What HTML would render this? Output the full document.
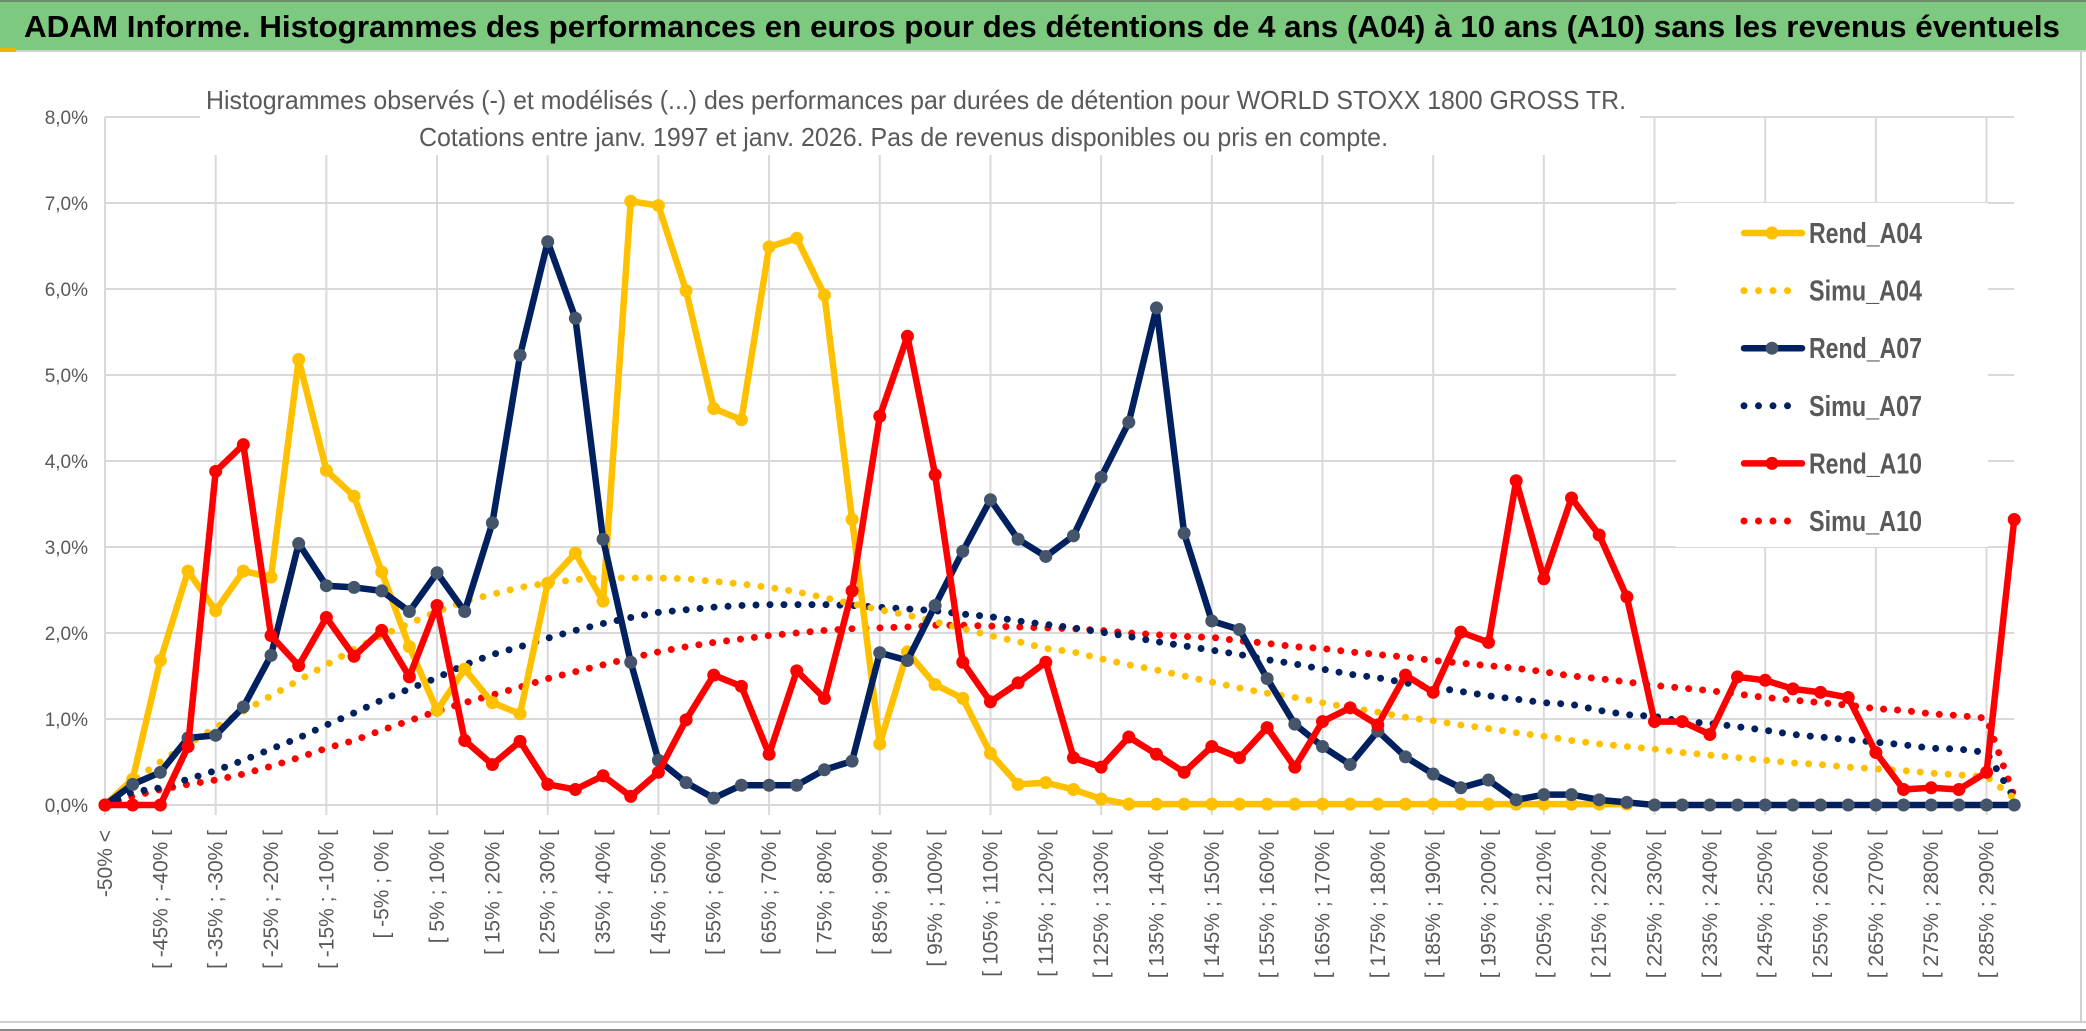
<!DOCTYPE html>
<html><head><meta charset="utf-8">
<style>
html,body{margin:0;padding:0;background:#fff;}
body{width:2086px;height:1031px;overflow:hidden;position:relative;font-family:"Liberation Sans",sans-serif;}
svg{position:absolute;left:0;top:0;}
</style></head>
<body>
<svg id="chart" width="2086" height="1031" viewBox="0 0 2086 1031" xmlns="http://www.w3.org/2000/svg">
  <rect x="0" y="0" width="2086" height="1031" fill="#ffffff"/>
  <rect x="0" y="0" width="2086" height="50" fill="#7dc97f"/>
  <line x1="0" y1="1" x2="2086" y2="1" stroke="#6a8f6a" stroke-width="2"/>
  <line x1="0" y1="51" x2="2086" y2="51" stroke="#d0d0d0" stroke-width="2"/>
  <rect x="0" y="48" width="16" height="4" fill="#f0b400"/>
  <text x="24" y="37" font-family="'Liberation Sans Narrow','Liberation Sans',sans-serif" font-weight="bold" font-size="31" fill="#000" textLength="2036" lengthAdjust="spacingAndGlyphs">ADAM Informe. Histogrammes des performances en euros pour des détentions de 4 ans (A04) à 10 ans (A10) sans les revenus éventuels</text>
  <line x1="2081" y1="52" x2="2081" y2="1022" stroke="#d0d0d0" stroke-width="2"/>
  <line x1="0" y1="1022" x2="2086" y2="1022" stroke="#d0d0d0" stroke-width="2"/>
  <line x1="0" y1="1030" x2="2086" y2="1030" stroke="#888" stroke-width="2"/>
  <g id="grid"></g>
  <rect x="200" y="75" width="1440" height="80" fill="#fff"/>
  <text x="206" y="109" font-size="26" fill="#595959" font-family="'Liberation Sans Narrow','Liberation Sans',sans-serif" textLength="1420" lengthAdjust="spacingAndGlyphs">Histogrammes observés (-) et modélisés (...) des performances par durées de détention pour WORLD STOXX 1800 GROSS TR.</text>
  <text x="419" y="146" font-size="26" fill="#595959" font-family="'Liberation Sans Narrow','Liberation Sans',sans-serif" textLength="969" lengthAdjust="spacingAndGlyphs">Cotations entre janv. 1997 et janv. 2026. Pas de revenus disponibles ou pris en compte.</text>
  <g id="yaxis"></g>
  <g id="xaxis"></g>
  <g id="series"></g>
  <g id="legend"></g>
</svg>
<script>
const categories = ["-50% <"];
for (let k = -50; k < 295; k += 5) categories.push("[ " + k + "% ; " + (k + 5) + "% [");
const yTicks = [0,1,2,3,4,5,6,7,8];
const yTickLabels = ["0,0%","1,0%","2,0%","3,0%","4,0%","5,0%","6,0%","7,0%","8,0%"];

const rendA04 = [0,0.3,1.68,2.72,2.26,2.72,2.65,5.18,3.89,3.59,2.71,1.84,1.10,1.58,1.19,1.06,2.58,2.93,2.37,7.02,6.97,5.98,4.61,4.48,6.49,6.59,5.93,3.32,0.71,1.78,1.40,1.24,0.60,0.24,0.26,0.18,0.07,0.01,0.01,0.01,0.01,0.01,0.01,0.01,0.01,0.01,0.01,0.01,0.01,0.01,0.01,0.01,0.01,0.01,0.01,0.01];
const simuA04 = [0,0.28,0.5,0.71,0.9,1.09,1.27,1.45,1.63,1.81,1.97,2.11,2.25,2.37,2.45,2.53,2.58,2.62,2.64,2.64,2.64,2.63,2.60,2.57,2.53,2.48,2.41,2.34,2.27,2.21,2.13,2.05,1.97,1.90,1.82,1.78,1.70,1.63,1.57,1.50,1.43,1.36,1.30,1.25,1.19,1.13,1.08,1.02,0.98,0.93,0.89,0.84,0.80,0.75,0.71,0.68,0.65,0.61,0.58,0.55,0.52,0.49,0.47,0.44,0.42,0.40,0.37,0.35,0.33,0.08];
const rendA07 = [0,0.24,0.38,0.78,0.81,1.14,1.74,3.04,2.55,2.53,2.49,2.25,2.70,2.25,3.28,5.23,6.55,5.66,3.09,1.66,0.52,0.26,0.08,0.23,0.23,0.23,0.41,0.51,1.77,1.68,2.32,2.95,3.55,3.09,2.89,3.13,3.81,4.45,5.78,3.16,2.14,2.04,1.47,0.94,0.68,0.47,0.86,0.56,0.36,0.20,0.29,0.06,0.12,0.12,0.06,0.03,0,0,0,0,0,0,0,0,0,0,0,0,0,0];
const simuA07 = [0,0.15,0.2,0.30,0.40,0.52,0.65,0.78,0.93,1.07,1.22,1.35,1.48,1.63,1.75,1.84,1.94,2.03,2.11,2.18,2.24,2.27,2.30,2.32,2.33,2.33,2.33,2.32,2.30,2.28,2.26,2.22,2.19,2.14,2.10,2.06,2.01,1.96,1.90,1.85,1.80,1.75,1.69,1.64,1.58,1.52,1.48,1.42,1.37,1.32,1.27,1.23,1.19,1.17,1.10,1.05,1.03,0.97,0.95,0.91,0.87,0.82,0.79,0.76,0.73,0.70,0.66,0.65,0.61,0.08];
const rendA10 = [0,0,0,0.68,3.88,4.19,1.97,1.62,2.18,1.73,2.03,1.49,2.32,0.75,0.47,0.74,0.24,0.18,0.34,0.10,0.38,0.99,1.51,1.38,0.59,1.56,1.24,2.49,4.52,5.45,3.84,1.66,1.20,1.42,1.66,0.55,0.44,0.79,0.59,0.38,0.68,0.55,0.90,0.44,0.97,1.13,0.93,1.51,1.31,2.01,1.89,3.77,2.63,3.57,3.14,2.42,0.97,0.97,0.82,1.49,1.45,1.35,1.31,1.25,0.61,0.18,0.20,0.18,0.38,3.32];
const simuA10 = [0,0.10,0.18,0.24,0.29,0.36,0.45,0.55,0.66,0.75,0.87,0.98,1.09,1.19,1.28,1.37,1.47,1.55,1.63,1.71,1.78,1.84,1.89,1.93,1.97,2.00,2.03,2.05,2.06,2.07,2.09,2.09,2.08,2.07,2.06,2.05,2.03,2.00,1.98,1.96,1.95,1.91,1.88,1.84,1.82,1.78,1.75,1.72,1.68,1.65,1.62,1.59,1.55,1.50,1.47,1.43,1.39,1.36,1.33,1.29,1.25,1.22,1.19,1.16,1.12,1.10,1.06,1.04,1.01,0.10];
const legendLabels = ["Rend_A04","Simu_A04","Rend_A07","Simu_A07","Rend_A10","Simu_A10"];

const NS = "http://www.w3.org/2000/svg";
const X0 = 105, DX = 27.67, Y0 = 805, YS = 86;
function xPos(i){ return X0 + i * DX; }
function yPos(v){ return Y0 - v * YS; }
function mk(tag, attrs, parent){
  const e = document.createElementNS(NS, tag);
  for (const k in attrs) e.setAttribute(k, attrs[k]);
  parent.appendChild(e);
  return e;
}
const grid = document.getElementById('grid');
const xEnd = xPos(categories.length - 1);
yTicks.forEach((t) => {
  const l = mk('line', {x1: X0, x2: xEnd, y1: yPos(t), y2: yPos(t), stroke: '#d9d9d9', 'stroke-width': 2}, grid);
  
  
});
for (let i = 0; i < categories.length; i += 4) {
  const l = mk('line', {x1: xPos(i), x2: xPos(i), y1: yPos(8), y2: Y0 + 10, stroke: '#d9d9d9', 'stroke-width': 2}, grid);
  
  
}
const yaxis = document.getElementById('yaxis');
yTicks.forEach((t, k) => {
  const tx = mk('text', {x: 88, y: yPos(t) + 7, 'text-anchor': 'end', 'font-size': 19, fill: '#595959', 'font-family': "'Liberation Sans Narrow','Liberation Sans',sans-serif"}, yaxis);
  tx.textContent = yTickLabels[k];
  
  
});
const xaxis = document.getElementById('xaxis');
categories.forEach((c, i) => {
  if (i % 2) return;
  const x = xPos(i) + 7, y = 830;
  const tx = mk('text', {x: x, y: y, 'text-anchor': 'end', 'font-size': 21, fill: '#595959', transform: 'rotate(-90 ' + x + ' ' + y + ')'}, xaxis);
  tx.textContent = c;
  
  
});
const series = document.getElementById('series');
function dotted(vals, color, name){
  const pts = vals.map((v, i) => xPos(i) + ',' + yPos(v)).join(' ');
  const p = mk('polyline', {points: pts, fill: 'none', stroke: color, 'stroke-width': 7, 'stroke-linecap': 'round', 'stroke-dasharray': '0 14'}, series);
  
  
}
function solid(vals, color, mcolor, name){
  const pts = vals.map((v, i) => xPos(i) + ',' + yPos(v)).join(' ');
  const p = mk('polyline', {points: pts, fill: 'none', stroke: color, 'stroke-width': 6.5, 'stroke-linejoin': 'round'}, series);
  
  
  vals.forEach((v, i) => {
    const m = mk('circle', {cx: xPos(i), cy: yPos(v), r: 6.5, fill: mcolor}, series);
    
    
  });
}
dotted(simuA10, '#ff0000', 'simu-a10-line');
dotted(simuA07, '#002060', 'simu-a07-line');
dotted(simuA04, '#ffc000', 'simu-a04-line');
solid(rendA04, '#ffc000', '#ffc000', 'rend-a04');
solid(rendA07, '#002060', '#44546a', 'rend-a07');
solid(rendA10, '#ff0000', '#ff0000', 'rend-a10');

const legend = document.getElementById('legend');
const bg = mk('rect', {x: 1676, y: 203, width: 312, height: 344, fill: '#fff'}, legend);


const legColors = ['#ffc000','#ffc000','#002060','#002060','#ff0000','#ff0000'];
const legMarker = ['#ffc000',null,'#44546a',null,'#ff0000',null];
legendLabels.forEach((lab, k) => {
  const y = 233 + k * 57.6;
  const g = mk('g', {}, legend);
  
  
  if (k % 2 === 0) {
    mk('line', {x1: 1744, x2: 1802, y1: y, y2: y, stroke: legColors[k], 'stroke-width': 6.5, 'stroke-linecap': 'round'}, g);
    mk('circle', {cx: 1772, cy: y, r: 6.5, fill: legMarker[k]}, g);
  } else {
    mk('line', {x1: 1744, x2: k === 5 ? 1800 : 1792, y1: y, y2: y, stroke: legColors[k], 'stroke-width': 7, 'stroke-linecap': 'round', 'stroke-dasharray': '0 14.5'}, g);
  }
  const tx = mk('text', {x: 1809, y: y + 10, 'font-size': 29, 'font-weight': 'bold', fill: '#595959', 'font-family': "'Liberation Sans Narrow','Liberation Sans',sans-serif", textLength: 113, lengthAdjust: 'spacingAndGlyphs'}, g);
  tx.textContent = lab;
});
</script>
</body></html>
